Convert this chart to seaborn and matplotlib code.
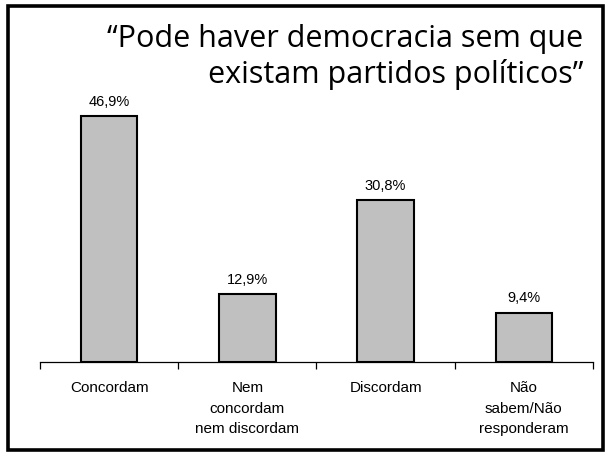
import matplotlib
matplotlib.use("Agg")
import matplotlib.pyplot as plt
import seaborn as sns
import pandas as pd
from matplotlib.patches import Rectangle

categories = ["Concordam", "Nem\nconcordam\nnem discordam", "Discordam", "Não\nsabem/Não\nresponderam"]
values = [46.9, 12.9, 30.8, 9.4]
value_labels = ["46,9%", "12,9%", "30,8%", "9,4%"]
title = "\u201cPode haver democracia sem que\nexistam partidos políticos\u201d"

sns.set_style("white")
plt.rcParams['font.family'] = ['Liberation Sans', 'DejaVu Sans']
plt.rcParams['text.color'] = 'black'
plt.rcParams['xtick.color'] = 'black'
plt.rcParams['xtick.labelcolor'] = 'black'

W, H = 611, 456
fig = plt.figure(figsize=(W / 100, H / 100), dpi=100)
ax = fig.add_axes([40 / W, (H - 363) / H, 553 / W, 0.575])

df = pd.DataFrame({"cat": categories, "val": values})
sns.barplot(data=df, x="cat", y="val", color="#C0C0C0", saturation=1,
            edgecolor="black", linewidth=1.5, width=0.41, ax=ax)

ax.set_xlim(-0.5, 3.5)
ax.set_ylim(0, 50)
for s in ["top", "right", "left"]:
    ax.spines[s].set_visible(False)
ax.spines["bottom"].set_linewidth(0.9)
ax.spines["bottom"].set_color("black")
ax.set_yticks([])
ax.set_xlabel("")
ax.set_ylabel("")

ax.set_xticks(range(len(categories)))
ax.set_xticklabels(categories, fontsize=11, linespacing=1.6, va="top", color="black")
ax.tick_params(axis="x", which="major", bottom=False, length=0, pad=13)
ax.set_xticks([i - 0.5 for i in range(len(categories) + 1)], minor=True)
ax.tick_params(axis="x", which="minor", bottom=True, length=5, width=0.9,
               color="black", direction="out")

for i, (v, lab) in enumerate(zip(values, value_labels)):
    ax.annotate(lab, (i, v), xytext=(0, 6), textcoords="offset points",
                ha="center", va="bottom", fontsize=10.5, color="black")

fig.text(583 / W, 1 - 24 / H, title, ha="right", va="top", fontsize=22,
         family=["Open Sans", "DejaVu Sans"], linespacing=1.2, color="black")

fig.patches.append(Rectangle((8 / W, 5 / H), 595 / W, 444 / H, transform=fig.transFigure,
                             fill=False, edgecolor="black", linewidth=2.6))

fig.savefig("out.png", dpi=100)
